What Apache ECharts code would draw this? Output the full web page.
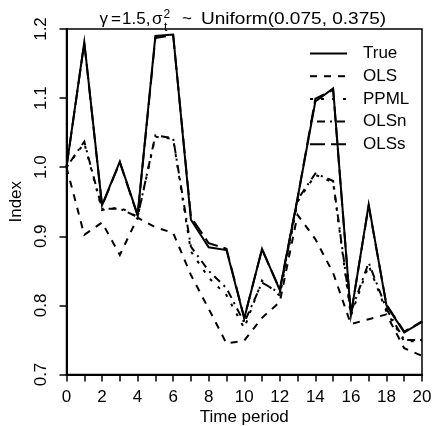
<!DOCTYPE html>
<html>
<head>
<meta charset="utf-8">
<script src="https://cdn.jsdelivr.net/npm/echarts@6/dist/echarts.min.js"></script>
<style>
  html, body { margin: 0; padding: 0; background: #fff; }
  #chart { width: 445px; height: 426px; }
</style>
</head>
<body>
<div id="chart"></div>
<script>
// Time periods 0..20
const periods = [0, 1, 2, 3, 4, 5, 6, 7, 8, 9, 10, 11, 12, 13, 14, 15, 16, 17, 18, 19, 20];

// Index series per estimator
const trueIndex = [1.000, 1.181, 0.945, 1.008, 0.931, 1.190, 1.192, 0.924, 0.884, 0.880, 0.781,
                   0.882, 0.822, 0.955, 1.095, 1.114, 0.786, 0.946, 0.800, 0.761, 0.776];
const olsIndex  = [1.000, 0.902, 0.920, 0.873, 0.927, 0.913, 0.905, 0.844, 0.795, 0.745, 0.749,
                   0.782, 0.805, 0.931, 0.896, 0.847, 0.773, 0.780, 0.787, 0.738, 0.727];
const ppmlIndex = [1.000, 1.035, 0.938, 0.942, 0.928, 1.044, 1.041, 0.878, 0.840, 0.815, 0.767,
                   0.836, 0.814, 0.950, 0.989, 0.978, 0.785, 0.858, 0.791, 0.748, 0.748];
const olsnIndex = [1.000, 1.037, 0.940, 0.940, 0.928, 1.046, 1.042, 0.885, 0.850, 0.825, 0.775,
                   0.833, 0.818, 0.953, 0.991, 0.980, 0.790, 0.862, 0.795, 0.750, 0.750];
const olssIndex = [1.000, 1.180, 0.944, 1.007, 0.930, 1.187, 1.191, 0.928, 0.890, 0.882, 0.782,
                   0.881, 0.823, 0.955, 1.099, 1.112, 0.787, 0.944, 0.801, 0.762, 0.777];

const seriesNames = ['True', 'OLS', 'PPML', 'OLSn', 'OLSs'];

// Axis ticks
const xTicks = { min: 0, max: 20, step: 1 };
const yTicks = { min: 0.7, max: 1.2, step: 0.1 };

const FONT = '"Liberation Sans", Arial, Helvetica, sans-serif';
const AXIS_FONT_SIZE = 17;

// Line dash patterns (px) for each estimator
const dashes = {
  True: 'solid',
  OLS: [7, 7],
  PPML: [3, 8],
  OLSn: [2, 5, 8, 5],
  OLSs: [15, 6]
};

const chart = echarts.init(document.getElementById('chart'), null, { renderer: 'canvas' });

function pairs(ys) { return periods.map((p, i) => [p, ys[i]]); }

function lineSeries(name, data) {
  return {
    name: name,
    type: 'line',
    data: pairs(data),
    symbol: 'none',
    showSymbol: false,
    animation: false,
    lineStyle: { color: '#000', width: 2, type: dashes[name], cap: 'butt', join: 'miter' },
    itemStyle: { color: '#000' },
    emphasis: { disabled: true }
  };
}

// Title pieces laid out like a math expression: γ = 1.5, σ_t^2 ~ Uniform(...)
const TITLE_SIZE = 17, SCRIPT_SIZE = 12, TITLE_Y = 19.5;
function titlePiece(text, x, y, size, sx) {
  return {
    type: 'text', x: x, y: y, scaleX: sx || 1, silent: true,
    style: { text: text, font: size + 'px ' + FONT, fill: '#000', align: 'left', verticalAlign: 'middle' }
  };
}
const titleGraphics = [
  titlePiece('γ', 99.5, TITLE_Y, TITLE_SIZE),
  titlePiece('=', 111, TITLE_Y, TITLE_SIZE),
  titlePiece('1.5,', 122, TITLE_Y, TITLE_SIZE),
  titlePiece('σ', 152, TITLE_Y, TITLE_SIZE),
  titlePiece('2', 163.5, 15, SCRIPT_SIZE),
  titlePiece('t', 164, 27.5, SCRIPT_SIZE),
  titlePiece('~', 182, TITLE_Y, TITLE_SIZE),
  titlePiece('Uniform(0.075, 0.375)', 201, TITLE_Y, TITLE_SIZE, 1.12)
];

// Legend drawn as key lines with labels, top-right inside the plot
const LEGEND = { x0: 310, x1: 347, textX: 363, y0: 53.5, rowGap: 22.7 };
const legendGraphics = [];
seriesNames.forEach((name, i) => {
  const y = LEGEND.y0 + i * LEGEND.rowGap;
  const dash = dashes[name];
  legendGraphics.push({
    type: 'line', silent: true,
    shape: { x1: LEGEND.x0, y1: y, x2: LEGEND.x1, y2: y },
    style: { stroke: '#000', lineWidth: 2, lineDash: dash === 'solid' ? null : dash, lineCap: 'butt' }
  });
  legendGraphics.push({
    type: 'text', x: LEGEND.textX, y: y, silent: true,
    style: { text: name, font: AXIS_FONT_SIZE + 'px ' + FONT, fill: '#000', align: 'left', verticalAlign: 'middle' }
  });
});

const option = {
  backgroundColor: '#fff',
  animation: false,
  grid: {
    left: 66.5, right: 23, top: 29, bottom: 51.5,
    containLabel: false, outerBoundsMode: 'none',
    show: true, borderColor: '#000', borderWidth: 1.5, backgroundColor: 'transparent'
  },
  graphic: titleGraphics.concat(legendGraphics),
  xAxis: {
    type: 'value',
    min: xTicks.min, max: xTicks.max, interval: xTicks.step,
    name: 'Time period', nameLocation: 'middle', nameGap: 34, nameMoveOverlap: false,
    nameTextStyle: { fontFamily: FONT, fontSize: AXIS_FONT_SIZE, color: '#000' },
    axisLine: { lineStyle: { color: '#000', width: 2 } },
    axisTick: { show: true, inside: false, length: 7, lineStyle: { color: '#000', width: 1.5 } },
    axisLabel: {
      fontFamily: FONT, fontSize: AXIS_FONT_SIZE, color: '#000', margin: 14,
      formatter: v => (Math.round(v) % 2 === 0 ? String(Math.round(v)) : '')
    },
    splitLine: { show: false }
  },
  yAxis: {
    type: 'value',
    min: yTicks.min, max: yTicks.max, interval: yTicks.step,
    name: 'Index', nameLocation: 'middle', nameGap: 42, nameRotate: 90, nameMoveOverlap: false,
    nameTextStyle: { fontFamily: FONT, fontSize: AXIS_FONT_SIZE, color: '#000' },
    axisLine: { show: true, lineStyle: { color: '#000', width: 2 } },
    axisTick: { show: true, inside: false, length: 7, lineStyle: { color: '#000', width: 1.5 } },
    axisLabel: {
      fontFamily: FONT, fontSize: AXIS_FONT_SIZE, color: '#000', margin: 17, rotate: 90,
      formatter: v => v.toFixed(1)
    },
    splitLine: { show: false }
  },
  series: [
    lineSeries('True', trueIndex),
    lineSeries('OLS', olsIndex),
    lineSeries('PPML', ppmlIndex),
    lineSeries('OLSn', olsnIndex),
    lineSeries('OLSs', olssIndex)
  ]
};

chart.setOption(option);
</script>
</body>
</html>
